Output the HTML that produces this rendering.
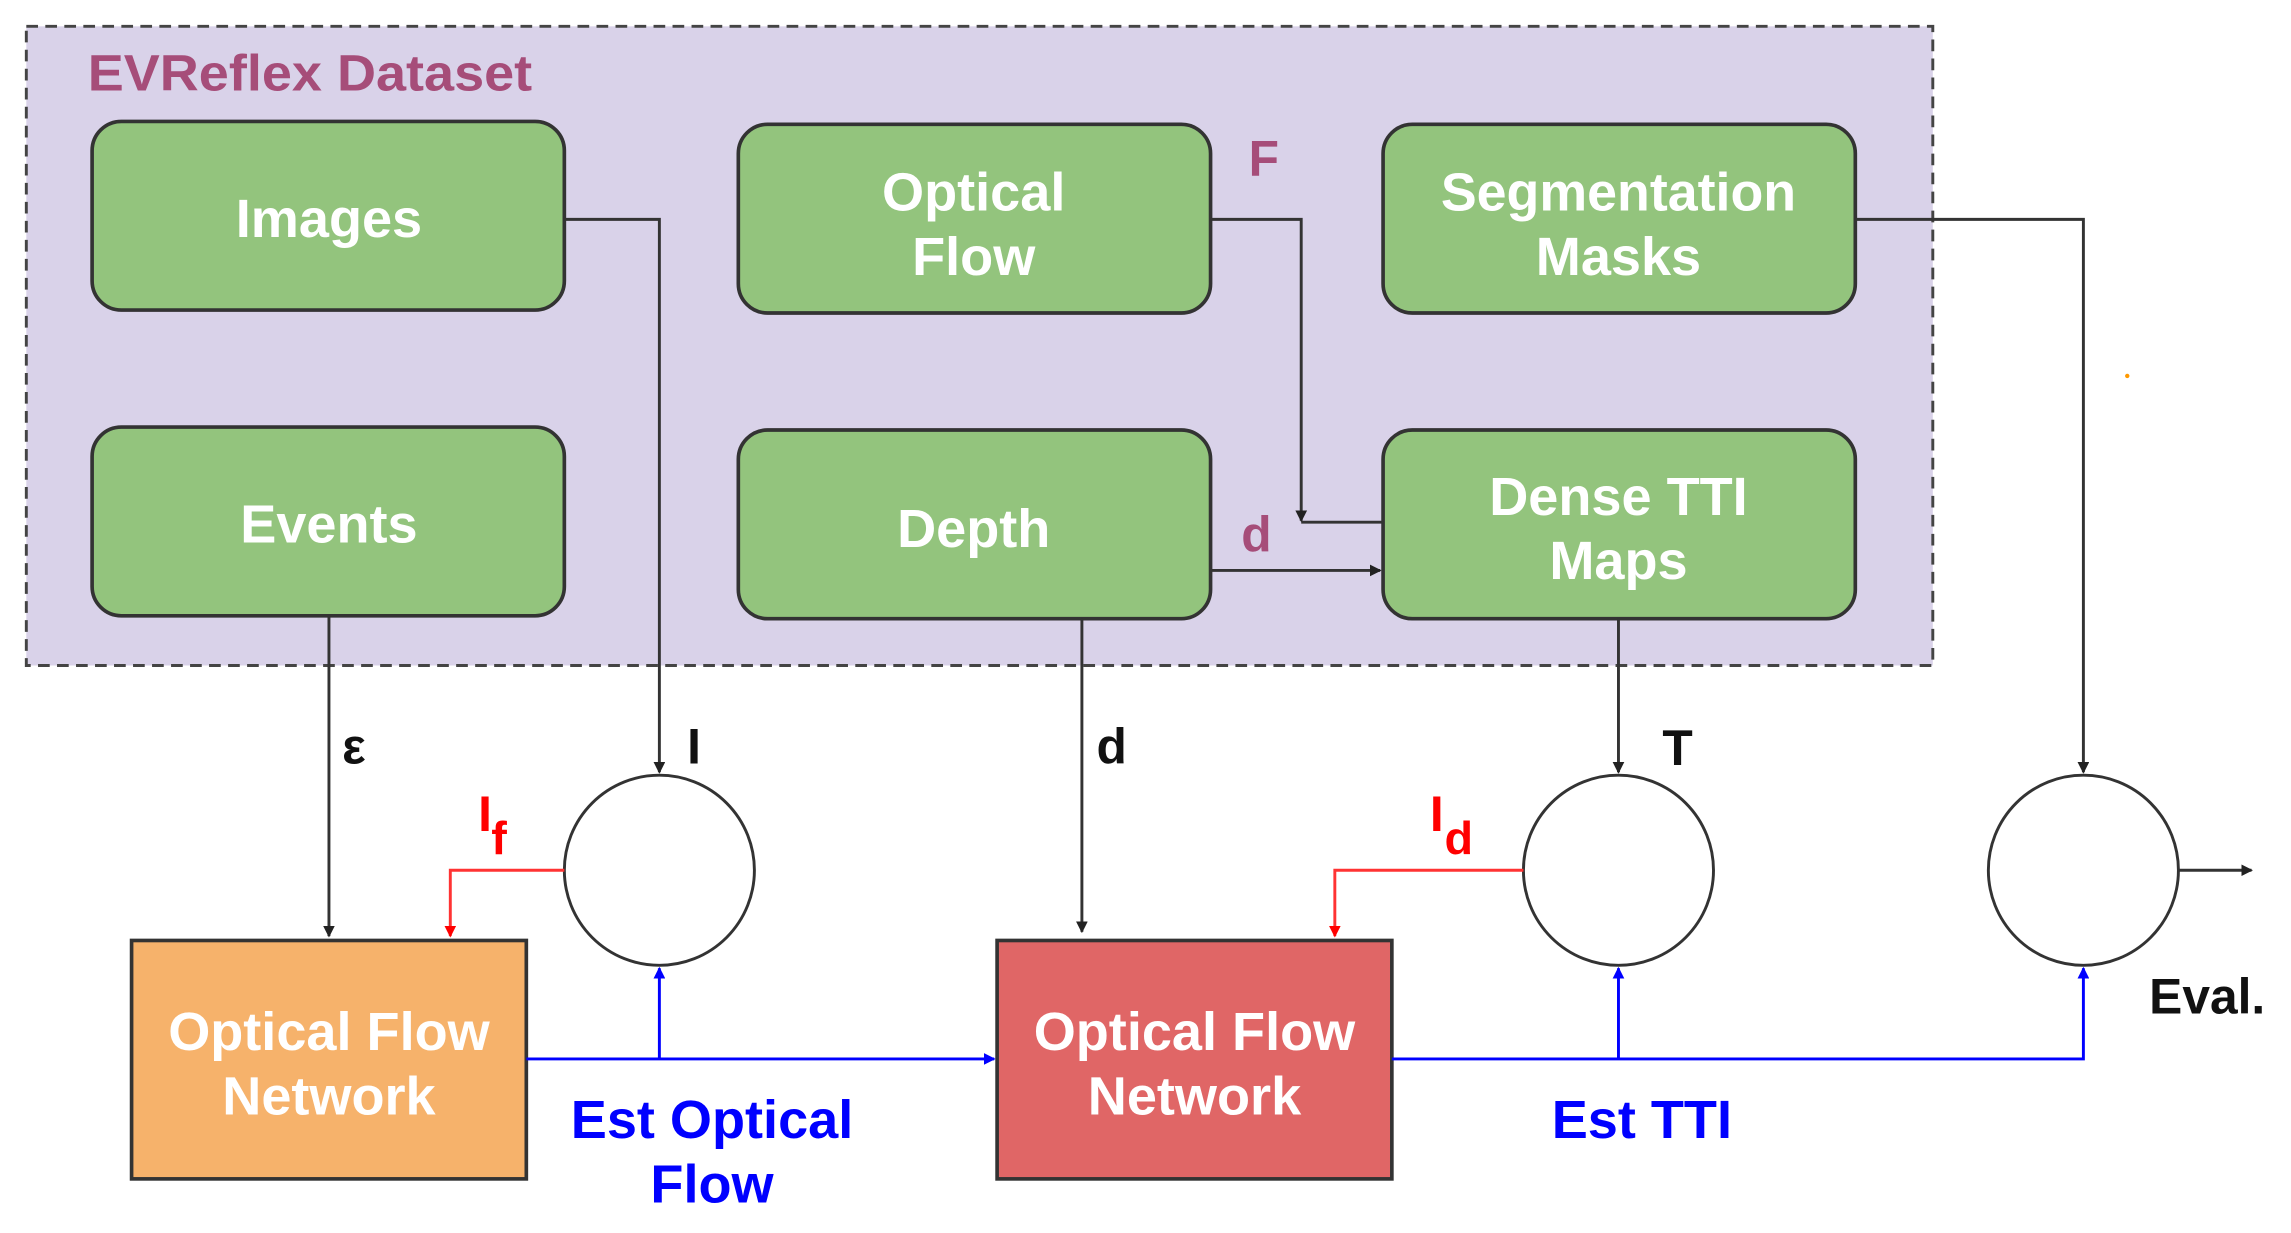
<!DOCTYPE html>
<html><head><meta charset="utf-8"><style>
html,body{margin:0;padding:0;background:#fff;}
svg{display:block;}
text{font-family:"Liberation Sans",sans-serif;font-weight:bold;}
</style></head><body>
<svg width="2291" height="1233" viewBox="0 0 1567 843" preserveAspectRatio="none" xmlns="http://www.w3.org/2000/svg">
<defs>
<marker id="ak" markerWidth="8" markerHeight="8" refX="7" refY="4" orient="auto" markerUnits="userSpaceOnUse"><path d="M0,0 L8,4 L0,8z" fill="#222"/></marker>
<marker id="ar" markerWidth="8" markerHeight="8" refX="7" refY="4" orient="auto" markerUnits="userSpaceOnUse"><path d="M0,0 L8,4 L0,8z" fill="#f00"/></marker>
<marker id="ab" markerWidth="8" markerHeight="8" refX="7" refY="4" orient="auto" markerUnits="userSpaceOnUse"><path d="M0,0 L8,4 L0,8z" fill="#00f"/></marker>
</defs>
<rect x="18" y="18" width="1304" height="437" fill="#d9d2e9" stroke="#444" stroke-width="2" stroke-dasharray="8,5"/>
<text x="60" y="62" font-size="35" fill="#a64d79" textLength="304" lengthAdjust="spacingAndGlyphs">EVReflex Dataset</text>
<g fill="#93c47d" stroke="#333" stroke-width="2.5">
<rect x="63" y="83" width="323" height="129" rx="20"/>
<rect x="505" y="85" width="323" height="129" rx="20"/>
<rect x="946" y="85" width="323" height="129" rx="20"/>
<rect x="63" y="292" width="323" height="129" rx="20"/>
<rect x="505" y="294" width="323" height="129" rx="20"/>
<rect x="946" y="294" width="323" height="129" rx="20"/>
</g>
<g fill="#fff" font-size="37" text-anchor="middle">
<text x="225" y="162">Images</text>
<text x="666" y="144">Optical</text><text x="666" y="188">Flow</text>
<text x="1107" y="144" textLength="243" lengthAdjust="spacingAndGlyphs">Segmentation</text><text x="1107" y="188">Masks</text>
<text x="225" y="371">Events</text>
<text x="666" y="374">Depth</text>
<text x="1107" y="352">Dense TTI</text><text x="1107" y="396">Maps</text>
</g>
<g stroke="#333" stroke-width="2" fill="none">
<path d="M386,150 H451 V528" marker-end="url(#ak)"/>
<path d="M828,150 H890 V356" marker-end="url(#ak)"/>
<path d="M946,357 H890"/>
<path d="M828,390 H944" marker-end="url(#ak)"/>
<path d="M1269,150 H1425 V528" marker-end="url(#ak)"/>
<path d="M225,421 V640" marker-end="url(#ak)"/>
<path d="M740,423 V637" marker-end="url(#ak)"/>
<path d="M1107,423 V528" marker-end="url(#ak)"/>
<path d="M1490,595 H1540" marker-end="url(#ak)"/>
<circle cx="451" cy="595" r="65" fill="#fff"/>
<circle cx="1107" cy="595" r="65" fill="#fff"/>
<circle cx="1425" cy="595" r="65" fill="#fff"/>
</g>
<g stroke="#f33" stroke-width="2" fill="none">
<path d="M386,595 H308 V640" marker-end="url(#ar)"/>
<path d="M1042,595 H913 V640" marker-end="url(#ar)"/>
</g>
<rect x="90" y="643" width="270" height="163" fill="#f6b26b" stroke="#333" stroke-width="2.5"/>
<rect x="682" y="643" width="270" height="163" fill="#e06666" stroke="#333" stroke-width="2.5"/>
<g fill="#fff" font-size="37" text-anchor="middle">
<text x="225" y="718">Optical Flow</text><text x="225" y="762">Network</text>
<text x="817" y="718">Optical Flow</text><text x="817" y="762">Network</text>
</g>
<g stroke="#00f" stroke-width="2" fill="none">
<path d="M360,724 H680" marker-end="url(#ab)"/>
<path d="M451,724 V662" marker-end="url(#ab)"/>
<path d="M952,724 H1425 V662" marker-end="url(#ab)"/>
<path d="M1107,724 V662" marker-end="url(#ab)"/>
</g>
<g fill="#00f" font-size="37" text-anchor="middle">
<text x="487" y="778">Est Optical</text><text x="487" y="822">Flow</text>
<text x="1123" y="778">Est TTI</text>
</g>
<g font-size="34" fill="#a64d79">
<text x="854" y="120">F</text>
<text x="849" y="377">d</text>
</g>
<g font-size="34" fill="#111">
<text x="234" y="522">ε</text>
<text x="470" y="522">I</text>
<text x="750" y="522">d</text>
<text x="1137" y="523">T</text>
<text x="1470" y="693">Eval.</text>
</g>
<g fill="#f00">
<text x="327" y="568" font-size="34">I</text><text x="336" y="584" font-size="32">f</text>
<text x="978" y="568" font-size="34">I</text><text x="988" y="584" font-size="32">d</text>
</g>
<circle cx="1455" cy="257" r="1.5" fill="#f90"/>
</svg>
</body></html>
